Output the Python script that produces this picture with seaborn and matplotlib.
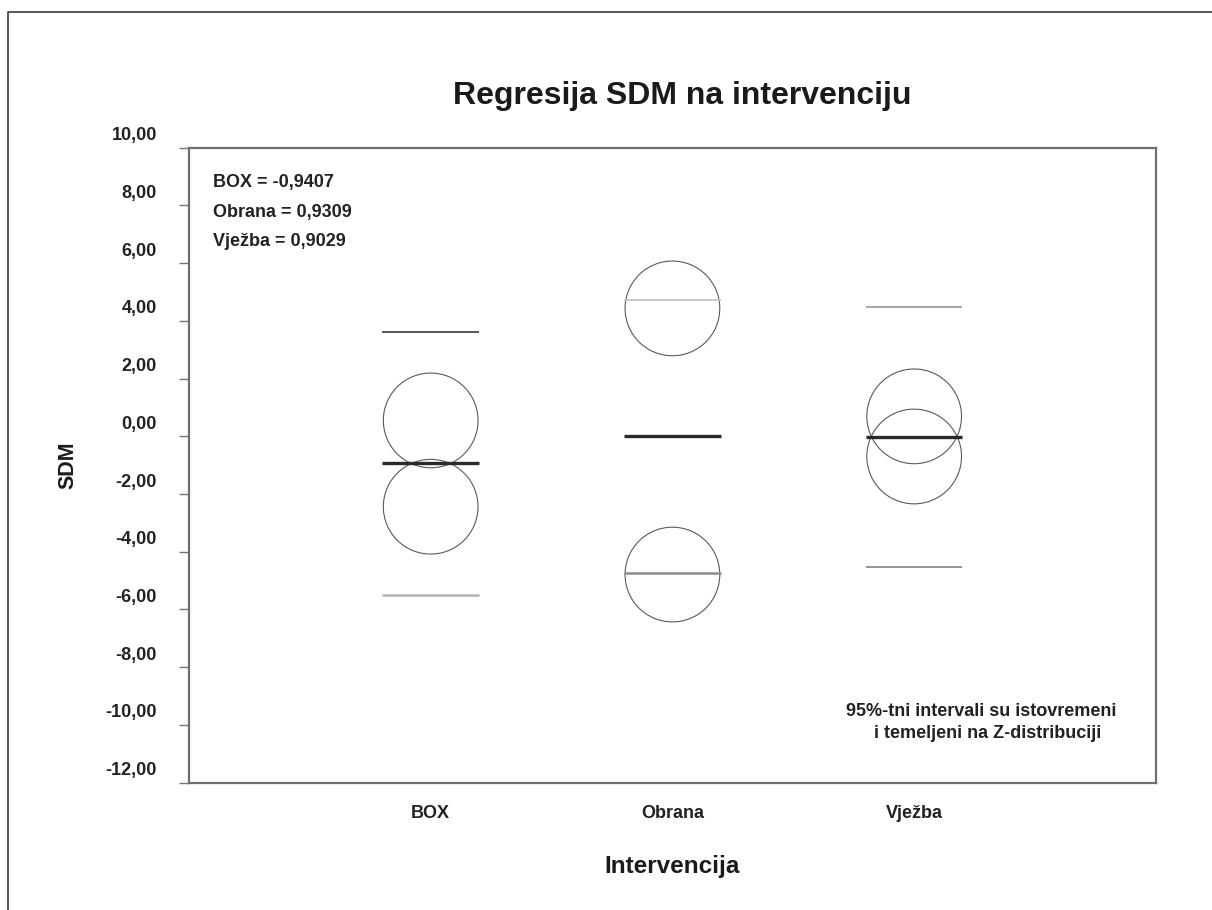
import matplotlib
matplotlib.use("Agg")
import matplotlib.pyplot as plt
from matplotlib.transforms import ScaledTranslation
from matplotlib.lines import Line2D
import seaborn as sns
import pandas as pd
import numpy as np

# ---- data ----
categories = ["BOX", "Obrana", "Vježba"]
means = [-0.9407, 0.00, -0.03]
upper_limits = [3.60, 4.73, 4.49]
lower_limits = [-5.50, -4.75, -4.53]
circle_upper = [0.55, 4.43, 0.69]
circle_lower = [-2.44, -4.79, -0.70]
coef_labels = ["BOX = -0,9407", "Obrana = 0,9309", "Vježba = 0,9029"]
yticks = [10, 8, 6, 4, 2, 0, -2, -4, -6, -8, -10, -12]
ytick_labels = ["10,00", "8,00", "6,00", "4,00", "2,00", "0,00", "-2,00",
                "-4,00", "-6,00", "-8,00", "-10,00", "-12,00"]

sns.set_theme(style="white")
plt.rcParams['font.family'] = ['Liberation Sans', 'DejaVu Sans']
plt.rcParams['font.weight'] = 'bold'

fig = plt.figure(figsize=(12.12, 9.10), dpi=100)
ax = fig.add_axes([0.1559, 0.1399, 0.7978, 0.6979])

pos = np.arange(len(categories))
circ_df = pd.DataFrame({
    "x": np.concatenate([pos, pos]),
    "y": circle_upper + circle_lower,
})
sns.scatterplot(data=circ_df, x="x", y="y", ax=ax, s=4650, marker="o",
                facecolors="none", edgecolor="#5a5a5a", linewidth=0.8,
                legend=False, zorder=2)

hw = 0.2
ax.hlines(means, pos - hw, pos + hw, colors="#2a2a2a", linewidth=2.4, zorder=3)
up_colors = ["#3a3a3a", "#c4c4c4", "#a8a8a8"]
lo_colors = ["#b4b4b4", "#8c8c8c", "#8c8c8c"]
up_lw = [1.2, 1.3, 1.5]
lo_lw = [1.8, 1.8, 1.3]
for i in range(len(categories)):
    ax.hlines(upper_limits[i], pos[i] - hw, pos[i] + hw, colors=up_colors[i],
              linewidth=up_lw[i], zorder=3)
    ax.hlines(lower_limits[i], pos[i] - hw, pos[i] + hw, colors=lo_colors[i],
              linewidth=lo_lw[i], zorder=3)

ax.set_xlim(-1, 3)
ax.set_ylim(-12, 10)
ax.set_xticks(pos)
ax.set_xticklabels(categories, fontsize=13, fontweight='bold', color="#222222")
ax.set_yticks(yticks)
ax.set_yticklabels(ytick_labels, fontsize=13, fontweight='bold', color="#222222")
ax.tick_params(axis='x', length=0, pad=16)
ax.tick_params(axis='y', length=7, width=1.0, color="#777777", pad=16, left=True)
offset = ScaledTranslation(0, 14 / 100, fig.dpi_scale_trans)
for lab in ax.get_yticklabels():
    lab.set_transform(lab.get_transform() + offset)

for side in ["left", "right", "top", "bottom"]:
    ax.spines[side].set_visible(True)
    ax.spines[side].set_color("#6e6e6e")
    ax.spines[side].set_linewidth(1.6)

ax.set_xlabel("")
ax.set_ylabel("")

# coefficient labels
for i, t in enumerate(coef_labels):
    fig.text(213 / 1212, 1 - (182 + 30 * i) / 910, t, fontsize=13,
             fontweight='bold', color="#222222", ha='left', va='center')

# note
fig.text(981.5 / 1212, 1 - 711 / 910, "95%-tni intervali su istovremeni",
         fontsize=13, fontweight='bold', color="#222222", ha='center', va='center')
fig.text(988 / 1212, 1 - 734 / 910, "i temeljeni na Z-distribuciji",
         fontsize=13, fontweight='bold', color="#222222", ha='center', va='center')

# titles
fig.text(682 / 1212, 1 - 96 / 910, "Regresija SDM na intervenciju",
         fontsize=23, fontweight='bold', color="#1a1a1a", ha='center', va='center')
fig.text(672.5 / 1212, 1 - 866 / 910, "Intervencija",
         fontsize=17.5, fontweight='bold', color="#1a1a1a", ha='center', va='center')
fig.text(68 / 1212, 1 - 465 / 910, "SDM", rotation=90,
         fontsize=15.5, fontweight='bold', color="#1a1a1a", ha='center', va='center')

# outer frame (top and left)
fx = 8 / 1212
fy = 1 - 11.5 / 910
fig.add_artist(Line2D([fx, fx, 1.0], [0.0, fy, fy], transform=fig.transFigure,
                      color="#3a3a3a", linewidth=1.2))

fig.savefig("out.png", dpi=100)
